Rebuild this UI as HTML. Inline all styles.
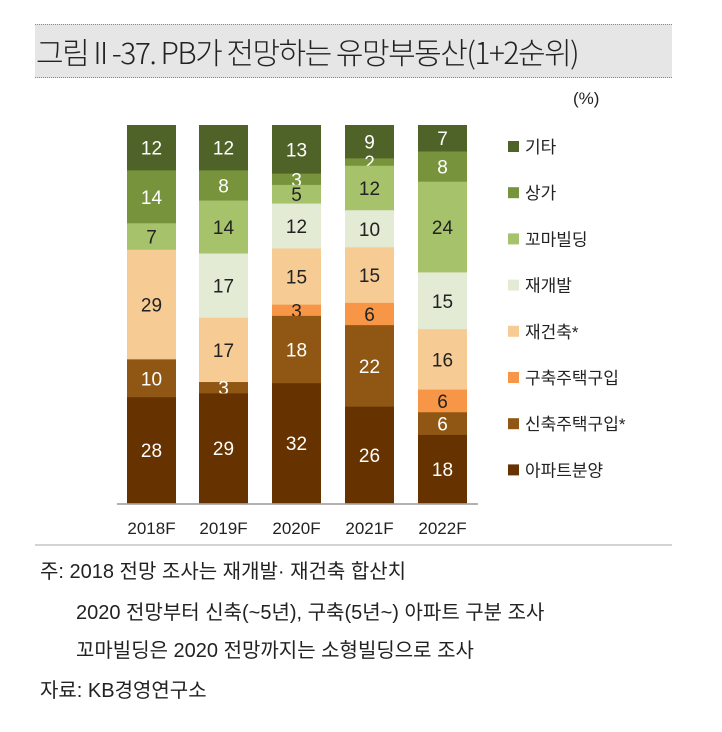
<!DOCTYPE html>
<html><head><meta charset="utf-8"><style>
body{margin:0;background:#fff;width:722px;height:732px;position:relative;overflow:hidden;font-family:"Liberation Sans","Noto Sans CJK KR",sans-serif;}
.t{position:absolute;white-space:nowrap}
</style></head><body>
<div style="position:absolute;left:35px;top:24px;width:637px;height:52px;background:#e6e6e6;border-top:1px dotted #888;border-bottom:1px dotted #888"></div>
<div class="t" style="left:36px;top:29px;font-size:30px;color:#222;letter-spacing:-1.5px;font-family:'Noto Sans CJK KR',sans-serif;font-weight:300">그림 II -37. PB가 전망하는 유망부동산(1+2순위)</div>
<div class="t" style="left:573px;top:89px;font-size:17px;color:#222">(%)</div>
<svg width="722" height="732" style="position:absolute;left:0;top:0" font-family="Liberation Sans, Noto Sans CJK KR, sans-serif">
<g id="bars"></g>
<line x1="117" y1="504" x2="478" y2="504" stroke="#999" stroke-width="1.5"/>
<line x1="35" y1="545" x2="672" y2="545" stroke="#aaa" stroke-width="1"/>
</svg>
<script>
(function(){
var C=['#4f6228','#77933c','#a6c26a','#e3ebd5','#f7cb94','#f79646','#8f5614','#663300'];
var W=[1,1,0,0,0,0,1,1];
var D=[[12,14,7,0,29,0,10,28],[12,8,14,17,17,0,3,29],[13,3,5,12,15,3,18,32],[9,2,12,10,15,6,22,26],[7,8,24,15,16,6,6,18]];
var X=[127,199,272,345,418],T0=125,H=378,s='';
D.forEach(function(d,i){var tot=d.reduce(function(a,b){return a+b},0),y=T0;
d.forEach(function(v,k){if(!v)return;var h=v/tot*H;
s+='<rect x="'+X[i]+'" y="'+y+'" width="49" height="'+(h+0.3)+'" fill="'+C[k]+'"/>';
s+='<text x="'+(X[i]+24.5)+'" y="'+(y+h/2+7)+'" font-size="19" text-anchor="middle" fill="'+(W[k]?'#fff':'#222')+'">'+v+'</text>';y+=h;});
s+='<text x="'+(X[i]+24.5)+'" y="534" font-size="17" text-anchor="middle" fill="#222">'+(2018+i)+'F</text>';});
var L=['기타','상가','꼬마빌딩','재개발','재건축*','구축주택구입','신축주택구입*','아파트분양'];
L.forEach(function(l,k){var y=147+k*46.2;
s+='<rect x="508" y="'+(y-6)+'" width="11" height="11" fill="'+C[k]+'"/>';
s+='<text x="525" y="'+(y+6)+'" font-size="17" fill="#222">'+l+'</text>';});
document.getElementById('bars').innerHTML=s;
})();
</script>
<div class="t" style="left:40px;top:555px;font-size:20px;color:#222">주: 2018 전망 조사는 재개발· 재건축 합산치</div>
<div class="t" style="left:76px;top:596px;font-size:20px;color:#222">2020 전망부터 신축(~5년), 구축(5년~) 아파트 구분 조사</div>
<div class="t" style="left:76px;top:634px;font-size:20px;color:#222">꼬마빌딩은 2020 전망까지는 소형빌딩으로 조사</div>
<div class="t" style="left:40px;top:674px;font-size:20px;color:#222">자료: KB경영연구소</div>
</body></html>
